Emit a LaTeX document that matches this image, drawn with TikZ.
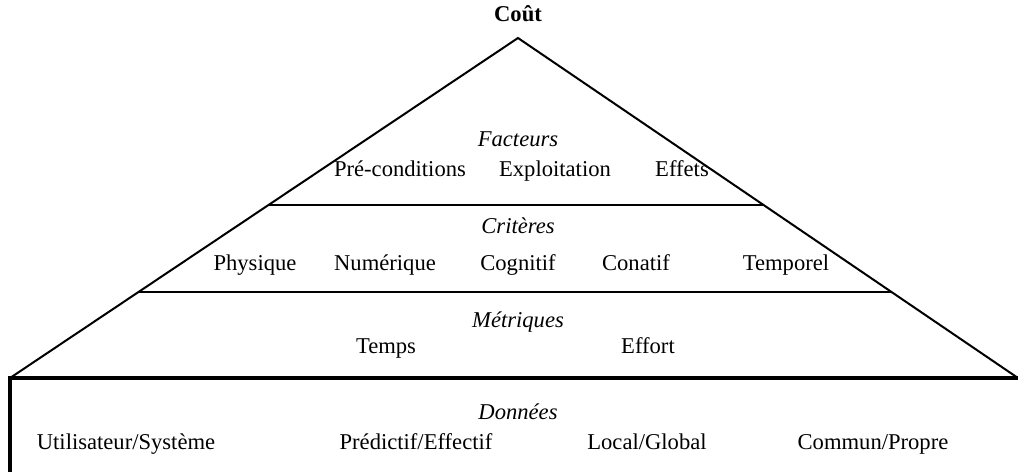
\documentclass[tikz,border=0pt]{standalone}
\usepackage{fontspec}
\setmainfont{Liberation Serif}
\usetikzlibrary{calc}

\begin{document}
\begin{tikzpicture}[x=0.5pt,y=-0.5pt,
    lbl/.style={font=\fontsize{11.3}{13}\selectfont, inner sep=1pt,
      text height=1.6ex, text depth=0.4ex},
    head/.style={lbl, font=\fontsize{11.3}{13}\selectfont\itshape}]
  \useasboundingbox (0,0) rectangle (1018,472);
  % pyramid
  \coordinate (apex) at (518,38);
  \coordinate (left) at (10,378);
  \coordinate (right) at (1018,378);
  \coordinate (bottom) at (10,472);
  \draw[line width=1pt] (left)--(apex)--(right);
  \draw[line width=1pt] ($(apex)!0.491!(left)$)--($(apex)!0.491!(right)$);
  \draw[line width=1pt] ($(apex)!0.747!(left)$)--($(apex)!0.747!(right)$);
  \draw[line width=1.6pt] (bottom)--(left)--(right);
  % labels
  \node[lbl, font=\fontsize{11.3}{13}\selectfont\bfseries] (cout) at (518,16) {Coût};
  \node[head] (facteurs) at (518,141) {Facteurs};
  \node[lbl] (precond) at (400,171) {Pré-conditions};
  \node[lbl] (exploit) at (555,171) {Exploitation};
  \node[lbl] (effets) at (682,171) {Effets};
  \node[head] (criteres) at (518,228) {Critères};
  \node[lbl] (physique) at (255,265) {Physique};
  \node[lbl] (numerique) at (385,265) {Numérique};
  \node[lbl] (cognitif) at (518,265) {Cognitif};
  \node[lbl] (conatif) at (636,265) {Conatif};
  \node[lbl] (temporel) at (786,265) {Temporel};
  \node[head] (metriques) at (518,322) {Métriques};
  \node[lbl] (temps) at (386,348) {Temps};
  \node[lbl] (effort) at (648,348) {Effort};
  \node[head] (donnees) at (518,414) {Données};
  \node[lbl] (usersys) at (126,444) {Utilisateur/Système};
  \node[lbl] (predeff) at (416,444) {Prédictif/Effectif};
  \node[lbl] (locglob) at (647,444) {Local/Global};
  \node[lbl] (comprop) at (873,444) {Commun/Propre};
\end{tikzpicture}
\end{document}
